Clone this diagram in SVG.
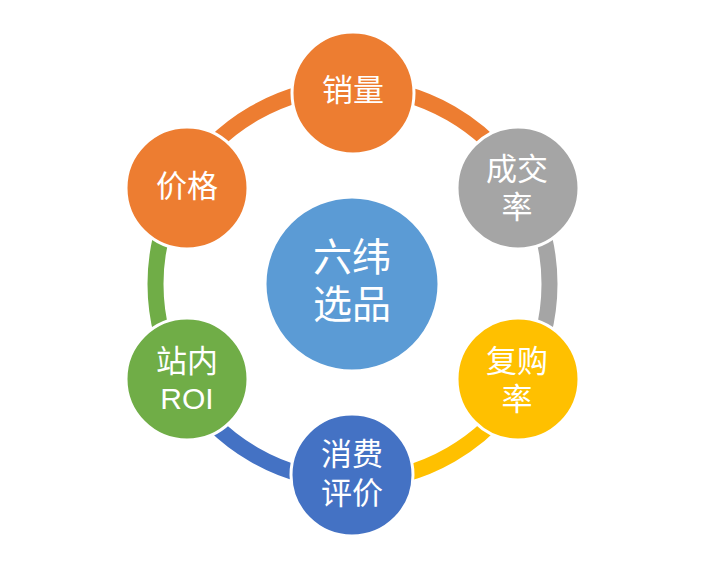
<svg xmlns="http://www.w3.org/2000/svg" width="720" height="575" viewBox="0 0 720 575">
<style>
.ring{fill:none;stroke-width:16}
.node{stroke:#ffffff;stroke-width:3}
.t{font-family:"Liberation Sans","Noto Sans CJK SC",sans-serif;fill:#ffffff;text-anchor:middle;dominant-baseline:central;font-size:31px}
.tc{font-size:39px}
</style>
<rect width="720" height="575" fill="#ffffff"/>
<g id="connectors">
<path class="ring" stroke="#ED7D31" d="M352.5 87 A197 197 0 0 1 523.1 185.5"/>
<path class="ring" stroke="#A5A5A5" d="M523.1 185.5 A197 197 0 0 1 523.1 382.5"/>
<path class="ring" stroke="#FFC000" d="M523.1 382.5 A197 197 0 0 1 352.5 481"/>
<path class="ring" stroke="#4472C4" d="M352.5 481 A197 197 0 0 1 181.9 382.5"/>
<path class="ring" stroke="#70AD47" d="M181.9 382.5 A197 197 0 0 1 181.9 185.5"/>
<path class="ring" stroke="#ED7D31" d="M181.9 185.5 A197 197 0 0 1 352.5 87"/>
</g>
<g id="center">
<circle class="node" cx="352" cy="284" r="87" fill="#5B9BD5"/>
<text class="t tc"><tspan x="352" y="257">六纬</tspan><tspan x="352" y="304">选品</tspan></text>
</g>
<g id="sales">
<circle class="node" cx="353" cy="93" r="61" fill="#ED7D31"/>
<text class="t" x="353" y="90">销量</text>
</g>
<g id="conversion">
<circle class="node" cx="518" cy="188" r="61" fill="#A5A5A5"/>
<text class="t"><tspan x="517" y="169">成交</tspan><tspan x="517" y="207">率</tspan></text>
</g>
<g id="repurchase">
<circle class="node" cx="518" cy="379" r="61" fill="#FFC000"/>
<text class="t"><tspan x="517" y="361">复购</tspan><tspan x="517" y="399">率</tspan></text>
</g>
<g id="review">
<circle class="node" cx="352" cy="475" r="61" fill="#4472C4"/>
<text class="t"><tspan x="352" y="454">消费</tspan><tspan x="352" y="493">评价</tspan></text>
</g>
<g id="roi">
<circle class="node" cx="187" cy="379" r="61" fill="#70AD47"/>
<text class="t"><tspan x="187" y="361">站内</tspan><tspan x="187" y="398" style="font-size:30px">ROI</tspan></text>
</g>
<g id="price">
<circle class="node" cx="187" cy="188" r="61" fill="#ED7D31"/>
<text class="t" x="187" y="186">价格</text>
</g>
</svg>
